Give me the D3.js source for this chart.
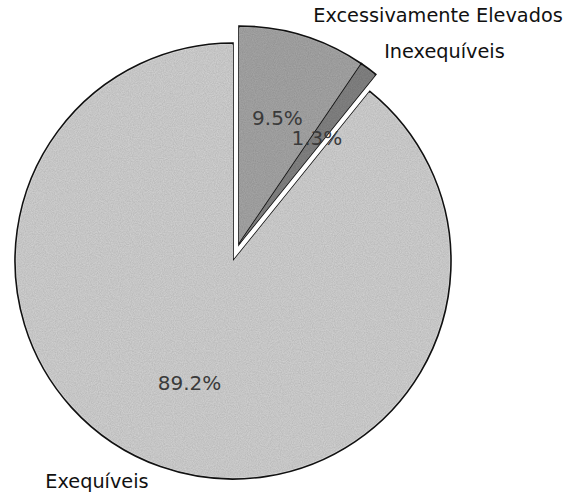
<!DOCTYPE html>
<html>
<head>
<meta charset="utf-8">
<script src="https://cdn.jsdelivr.net/npm/d3@7"></script>
<style>
  body { margin: 0; background: #fff; }
  svg text { font-family: "DejaVu Sans", Verdana, sans-serif; }
</style>
</head>
<body>
<div id="chart"></div>
<script>
// categorias e valores (%)
const categories = ['Excessivamente Elevados', 'Inexequíveis', 'Exequíveis'];
const values = [9.5, 1.3, 89.2];
const fills = ['#a8a8a8', '#858585', '#d4d4d4'];
const exploded = [true, true, false];

const width = 571;
const height = 496;
const radius = 218;
const cx = 233;
const cy = 261;

const svg = d3.select('#chart')
  .append('svg')
  .attr('width', width)
  .attr('height', height);

// textura de "digitalizado"
const defs = svg.append('defs');
const filter = defs.append('filter').attr('id', 'grain')
  .attr('x', 0).attr('y', 0).attr('width', 1).attr('height', 1);
filter.append('feTurbulence')
  .attr('type', 'fractalNoise')
  .attr('baseFrequency', 0.9)
  .attr('numOctaves', 2)
  .attr('seed', 3)
  .attr('result', 'noise');
filter.append('feColorMatrix')
  .attr('in', 'noise')
  .attr('type', 'matrix')
  .attr('values', '0 0 0 0 0  0 0 0 0 0  0 0 0 0 0  0 0 0 0.3 0')
  .attr('result', 'dots');
filter.append('feComposite')
  .attr('in', 'dots')
  .attr('in2', 'SourceGraphic')
  .attr('operator', 'atop');

const pie = d3.pie().sort(null).value(d => d.value);
const data = pie(categories.map((c, i) => ({ name: c, value: values[i], i })));

const arc = d3.arc().innerRadius(0).outerRadius(radius);
const labelArc = d3.arc().innerRadius(radius * 0.6).outerRadius(radius * 0.6);
const outerArc = d3.arc().innerRadius(radius * 1.08).outerRadius(radius * 1.08);
const explode = 18;

// as fatias destacadas saem juntas, na direção do meio do grupo
const expl = data.filter(d => exploded[d.data.i]);
const explMid = (d3.min(expl, d => d.startAngle) + d3.max(expl, d => d.endAngle)) / 2;

function offset(d) {
  if (!exploded[d.data.i]) return [0, 0];
  return [Math.sin(explMid) * explode, -Math.cos(explMid) * explode];
}
const mid = d => (d.startAngle + d.endAngle) / 2;

const g = svg.append('g').attr('transform', `translate(${cx},${cy})`);

const slices = g.selectAll('.slice')
  .data(data)
  .join('g')
  .attr('class', 'slice')
  .attr('transform', d => `translate(${offset(d)})`);

slices.append('path')
  .attr('d', arc)
  .attr('fill', d => fills[d.data.i])
  .attr('stroke', '#111')
  .attr('stroke-width', 1.6)
  .attr('stroke-linejoin', 'miter');

slices.append('path')
  .attr('d', arc)
  .attr('fill', d => fills[d.data.i])
  .attr('filter', 'url(#grain)')
  .attr('stroke', 'none')
  .attr('transform', 'scale(0.993)');

const labels = g.selectAll('.lbl')
  .data(data)
  .join('g')
  .attr('class', 'lbl')
  .attr('transform', d => `translate(${offset(d)})`);

// percentuais
labels.append('text')
  .attr('transform', d => `translate(${labelArc.centroid(d)})`)
  .attr('text-anchor', 'middle')
  .attr('dy', '0.3em')
  .attr('font-size', 20)
  .attr('fill', '#3a3a3a')
  .text(d => d.data.value.toFixed(1) + '%');

// rótulos externos
labels.append('text')
  .attr('transform', d => `translate(${outerArc.centroid(d)})`)
  .attr('text-anchor', d => mid(d) < Math.PI ? 'start' : 'end')
  .attr('dx', d => mid(d) < Math.PI ? 5 : -6)
  .attr('dy', d => mid(d) < Math.PI ? '0.18em' : '0.25em')
  .attr('font-size', 19.3)
  .attr('fill', '#111')
  .text(d => d.data.name);
</script>
</body>
</html>
